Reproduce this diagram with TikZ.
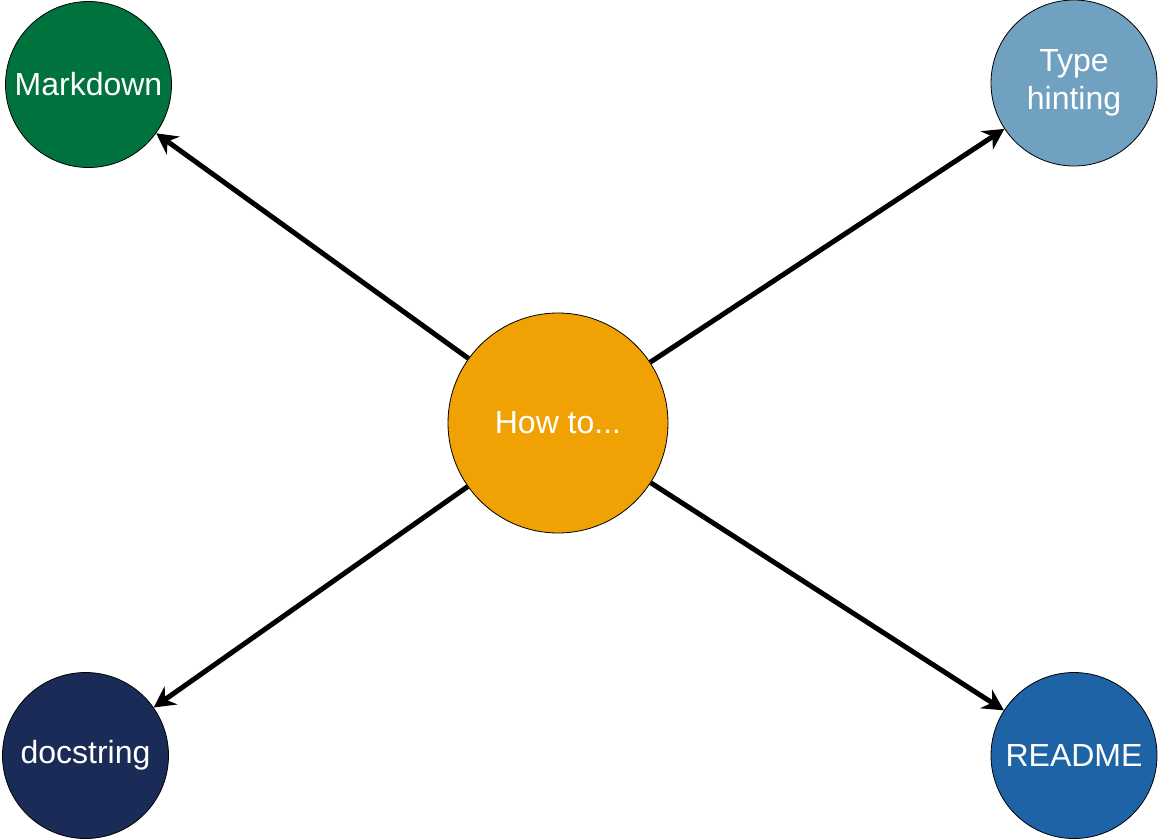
\documentclass[tikz,border=0pt]{standalone}
\usepackage{fontspec}
\setmainfont{Liberation Sans}
\usetikzlibrary{arrows.meta}

\definecolor{hubcol}{RGB}{240,161,4}
\definecolor{mdcol}{RGB}{0,114,61}
\definecolor{typecol}{RGB}{112,161,192}
\definecolor{doccol}{RGB}{27,43,87}
\definecolor{readcol}{RGB}{30,99,165}

\begin{document}
\begin{tikzpicture}[x=1pt,y=-1pt,
    topic/.style={circle, draw=black, line width=0.8pt, inner sep=0pt,
      minimum size=166pt, text=white, align=center,
      font=\fontsize{32}{38}\selectfont},
    link/.style={line width=5pt, -{Stealth[length=21pt,width=22pt,inset=7pt]}}]
          \useasboundingbox (0,0) rectangle (1162,839);

          % Centre
          \node[topic, fill=hubcol, minimum size=220pt] (how) at (558,423) {How to...};

          % Corners
          \node[topic, fill=mdcol] (markdown) at (88.5,84.5) {Markdown};
          \node[topic, fill=typecol] (typehint) at (1074,83) {Type\\hinting};
          \node[topic, fill=doccol] (docstring) at (85.5,755.5) {docstring};
          \node[topic, fill=readcol] (readme) at (1074,755.5) {README};

          % Connections
          \draw[link] (how) -- (markdown);
          \draw[link] (how) -- (typehint);
          \draw[link] (how) -- (docstring);
          \draw[link] (how) -- (readme);
        \end{tikzpicture}
\end{document}
